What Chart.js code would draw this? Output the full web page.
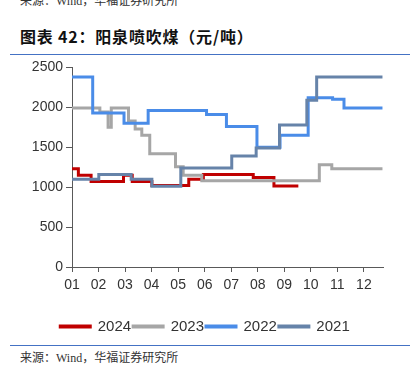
<!DOCTYPE html>
<html>
<head>
    <meta charset="utf-8">
    <script src="https://cdn.jsdelivr.net/npm/chart.js@4.4.1/dist/chart.umd.min.js"></script>
    <style>
        body { margin: 0; background: #fff; width: 413px; height: 379px; overflow: hidden; position: relative; }
        .src { position: absolute; left: 20px; font-family: "Liberation Serif", "Noto Sans CJK SC", serif; font-size: 12px; color: #333; white-space: nowrap; }
        .title { position: absolute; left: 20px; top: 26px; font-family: "Noto Sans CJK SC", sans-serif; font-weight: bold; font-size: 16px; line-height: 20px; letter-spacing: 0.8px; color: #111; white-space: nowrap; }
        .rule { position: absolute; left: 10px; width: 400px; height: 1px; background: #4472c4; }
        #wrap { position: absolute; left: 0; top: 56px; width: 413px; height: 288px; }
    </style>
</head>
<body>
    <div class="src" style="top:-9px;">来源：Wind，华福证券研究所</div>
    <div class="title">图表 42：阳泉喷吹煤（元/吨）</div>
    <div class="rule" style="top:54px;"></div>
    <div id="wrap"><canvas id="cokeChart"></canvas></div>
    <div class="rule" style="top:345px;"></div>
    <div class="src" style="top:348px;">来源：Wind，华福证券研究所</div>

    <script>
        // x = month position (1 = start of Jan), value changes at each x
        const x2024 = [1, 1.24, 1.72, 2.94, 3.27, 4.01, 5.4, 5.95, 7.83, 8.61, 9.53];
        const y2024 = [1230, 1150, 1070, 1150, 1070, 1020, 1100, 1160, 1120, 1015, 1015];

        const x2023 = [1, 2.05, 2.36, 2.48, 3.13, 3.38, 3.63, 3.93, 4.9, 5.19, 5.89, 10.32, 10.79, 12.7];
        const y2023 = [1990, 1940, 1750, 1990, 1830, 1730, 1650, 1420, 1255, 1150, 1080, 1280, 1230, 1230];

        const x2022 = [1, 1.78, 2.96, 3.87, 6.07, 6.82, 7.97, 8.84, 9.9, 10.82, 11.25, 12.7];
        const y2022 = [2380, 1930, 1800, 1960, 1910, 1760, 1500, 1650, 2120, 2100, 1990, 1990];

        const x2021 = [1, 2.01, 3.23, 4.01, 5.1, 7.02, 7.94, 8.82, 9.85, 10.22, 12.7];
        const y2021 = [1100, 1160, 1100, 1010, 1240, 1390, 1490, 1780, 2090, 2380, 2380];

        const monthTicks = [1, 2, 3, 4, 5, 6, 7, 8, 9, 10, 11, 12];
        const monthLabels = ['01', '02', '03', '04', '05', '06', '07', '08', '09', '10', '11', '12'];

        function toPoints(xs, ys) {
            return xs.map((x, i) => ({ x: x, y: ys[i] }));
        }

        function line(label, xs, ys, color) {
            return {
                label: label,
                data: toPoints(xs, ys),
                borderColor: color,
                backgroundColor: color,
                borderWidth: 3,
                pointRadius: 0,
                stepped: true
            };
        }

        const axisColor = '#595959';
        const tickFont = { family: 'Liberation Sans, Arial, sans-serif', size: 14 };

        new Chart(document.getElementById('cokeChart'), {
            type: 'line',
            data: {
                // 2021 first so it is painted on top, legend reversed
                datasets: [
                    line('2021', x2021, y2021, '#6683a9'),
                    line('2022', x2022, y2022, '#4a8ce8'),
                    line('2023', x2023, y2023, '#a6a6a6'),
                    line('2024', x2024, y2024, '#c00000')
                ]
            },
            options: {
                responsive: true,
                maintainAspectRatio: false,
                animation: false,
                layout: { padding: { top: 9, right: 30, bottom: 0, left: 27 } },
                plugins: {
                    tooltip: { enabled: false },
                    legend: {
                        position: 'bottom',
                        reverse: true,
                        labels: {
                            boxWidth: 30,
                            boxHeight: 1,
                            padding: 2,
                            color: '#333',
                            font: { family: 'Liberation Sans, Arial, sans-serif', size: 15 }
                        }
                    }
                },
                scales: {
                    x: {
                        type: 'linear',
                        min: 1,
                        max: 12.72,
                        afterBuildTicks: scale => {
                            scale.ticks = monthTicks.map(v => ({ value: v }));
                        },
                        afterFit: scale => { scale.height = 50; },
                        ticks: {
                            padding: 5,
                            color: '#333',
                            font: tickFont,
                            maxRotation: 0,
                            callback: (v, i) => monthLabels[i]
                        },
                        grid: { drawOnChartArea: false, tickLength: 5, color: axisColor },
                        border: { color: axisColor }
                    },
                    y: {
                        min: 0,
                        max: 2500,
                        afterFit: scale => { scale.width = 45; },
                        ticks: { stepSize: 500, padding: 3, color: '#333', font: tickFont, callback: v => String(v) },
                        grid: { drawOnChartArea: false, tickLength: 6, color: axisColor },
                        border: { color: axisColor }
                    }
                }
            }
        });
    </script>
</body>
</html>
